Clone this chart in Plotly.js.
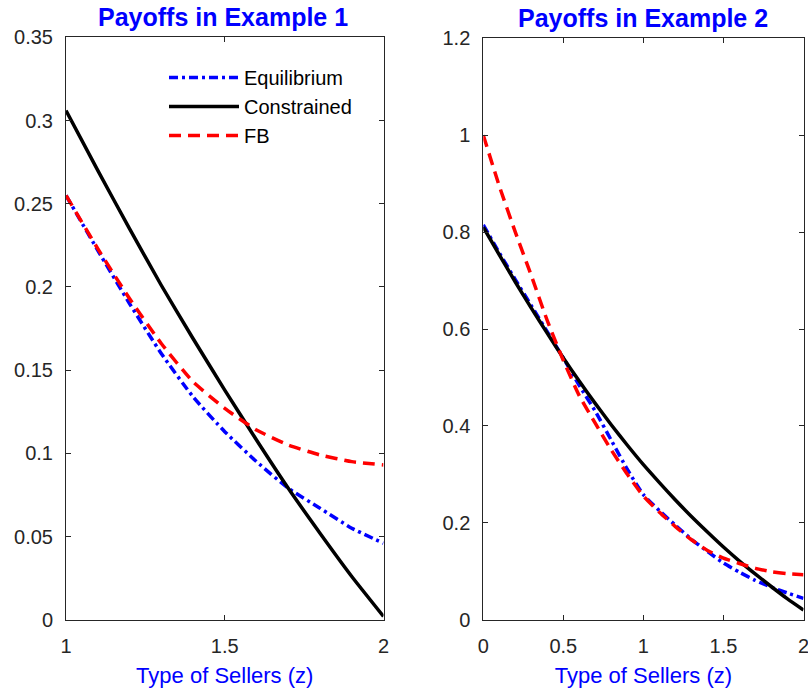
<!DOCTYPE html>
<html>
<head>
<meta charset="utf-8">
<script src="https://cdn.plot.ly/plotly-3.0.1.min.js"></script>
<style>html,body{margin:0;padding:0;background:#fff;}#chart{width:808px;height:694px;}</style>
</head>
<body>
<div id="chart"></div>
<script>
// Example 1 (left panel)
var z1 = [1.0, 1.1, 1.2, 1.3, 1.4, 1.5, 1.6, 1.7, 1.8, 1.9, 2.0];
var eq1 = [0.255, 0.222, 0.190, 0.160, 0.134, 0.113, 0.095, 0.079, 0.067, 0.055, 0.046];
var con1 = [0.306, 0.270, 0.235, 0.201, 0.169, 0.138, 0.108, 0.079, 0.052, 0.026, 0.002];
var fb1 = [0.255, 0.223, 0.193, 0.166, 0.143, 0.127, 0.114, 0.105, 0.099, 0.095, 0.093];

// Example 2 (right panel)
var z2 = [0.0, 0.1, 0.2, 0.3, 0.4, 0.5, 0.6, 0.7, 0.8, 0.9, 1.0, 1.1, 1.2, 1.3, 1.4, 1.5, 1.6, 1.7, 1.8, 1.9, 2.0];
var eq2 = [0.815, 0.757, 0.702, 0.648, 0.594, 0.540, 0.483, 0.430, 0.370, 0.310, 0.258, 0.225, 0.195, 0.166, 0.141, 0.117, 0.098, 0.081, 0.067, 0.055, 0.044];
var con2 = [0.810, 0.753, 0.697, 0.643, 0.591, 0.540, 0.492, 0.446, 0.402, 0.360, 0.320, 0.283, 0.247, 0.213, 0.181, 0.150, 0.121, 0.094, 0.068, 0.043, 0.020];
var fb2 = [1.000, 0.895, 0.800, 0.710, 0.617, 0.535, 0.462, 0.405, 0.350, 0.300, 0.255, 0.222, 0.192, 0.165, 0.143, 0.127, 0.116, 0.106, 0.099, 0.095, 0.093];

var seriesNames = ["Equilibrium", "Constrained", "FB"];
var titles = ["Payoffs in Example 1", "Payoffs in Example 2"];
var xTitle = "Type of Sellers (z)";

var x1Ticks = [1, 1.5, 2];
var x1Text = ["1", "1.5", "2"];
var y1Ticks = [0, 0.05, 0.1, 0.15, 0.2, 0.25, 0.3, 0.35];
var y1Text = ["0", "0.05", "0.1", "0.15", "0.2", "0.25", "0.3", "0.35"];
var x2Ticks = [0, 0.5, 1, 1.5, 2];
var x2Text = ["0", "0.5", "1", "1.5", "2"];
var y2Ticks = [0, 0.2, 0.4, 0.6, 0.8, 1, 1.2];
var y2Text = ["0", "0.2", "0.4", "0.6", "0.8", "1", "1.2"];

var FONT = "Liberation Sans, Arial, Helvetica, sans-serif";
var eqLine = {color: "#0000FF", width: 3.5, dash: "9px,4px,3px,4px", shape: "spline", smoothing: 0.5};
var conLine = {color: "#000000", width: 3.5, dash: "solid", shape: "spline", smoothing: 0.5};
var fbLine = {color: "#FF0000", width: 3.5, dash: "12px,7px", shape: "spline", smoothing: 0.5};

var traces = [
  {x: z1, y: eq1, name: seriesNames[0], mode: "lines", line: eqLine, xaxis: "x", yaxis: "y", legendgroup: "a"},
  {x: z1, y: con1, name: seriesNames[1], mode: "lines", line: conLine, xaxis: "x", yaxis: "y", legendgroup: "b"},
  {x: z1, y: fb1, name: seriesNames[2], mode: "lines", line: fbLine, xaxis: "x", yaxis: "y", legendgroup: "c"},
  {x: z2, y: eq2, name: seriesNames[0], mode: "lines", line: eqLine, xaxis: "x2", yaxis: "y2", showlegend: false, legendgroup: "a"},
  {x: z2, y: con2, name: seriesNames[1], mode: "lines", line: conLine, xaxis: "x2", yaxis: "y2", showlegend: false, legendgroup: "b"},
  {x: z2, y: fb2, name: seriesNames[2], mode: "lines", line: fbLine, xaxis: "x2", yaxis: "y2", showlegend: false, legendgroup: "c"}
];

function axisBase(extra) {
  var a = {
    showgrid: false, zeroline: false, showline: true, mirror: "ticks",
    linecolor: "#262626", linewidth: 1, ticks: "inside", ticklen: 5, tickwidth: 1, tickcolor: "#262626",
    tickfont: {family: FONT, size: 20, color: "#262626"}, tickmode: "array", fixedrange: true,
    ticklabeloverflow: "allow", ticklabelstandoff: 8
  };
  for (var k in extra) a[k] = extra[k];
  return a;
}

var W = 808, H = 694;
var layout = {
  width: W, height: H,
  margin: {l: 0, r: 0, t: 0, b: 0},
  paper_bgcolor: "#ffffff", plot_bgcolor: "#ffffff",
  font: {family: FONT, color: "#262626"},
  showlegend: true,
  legend: {
    x: 164 / W, y: 1 - 58 / H, xanchor: "left", yanchor: "top",
    bgcolor: "rgba(255,255,255,0)", borderwidth: 0,
    font: {family: FONT, size: 20, color: "#000000"},
    tracegroupgap: 0, itemwidth: 70
  },
  xaxis: axisBase({domain: [66 / W, 383.5 / W], range: [1, 2], tickvals: x1Ticks, ticktext: x1Text, anchor: "y",
    title: {text: xTitle, font: {family: FONT, size: 22, color: "#0000FF"}, standoff: 11}}),
  yaxis: axisBase({domain: [1 - 619.7 / H, 1 - 37.3 / H], range: [0, 0.35], tickvals: y1Ticks, ticktext: y1Text, anchor: "x"}),
  xaxis2: axisBase({domain: [483.3 / W, 803.5 / W], range: [0, 2], tickvals: x2Ticks, ticktext: x2Text, anchor: "y2",
    title: {text: xTitle, font: {family: FONT, size: 22, color: "#0000FF"}, standoff: 11}}),
  yaxis2: axisBase({domain: [1 - 619.7 / H, 1 - 38.3 / H], range: [0, 1.2], tickvals: y2Ticks, ticktext: y2Text, anchor: "x2"}),
  annotations: [
    {text: "<b>" + titles[0] + "</b>", xref: "paper", yref: "paper", x: 222.5 / W, y: 1 - 17 / H, xanchor: "center", yanchor: "middle",
     showarrow: false, font: {family: FONT, size: 25, color: "#0000FF"}},
    {text: "<b>" + titles[1] + "</b>", xref: "paper", yref: "paper", x: 643 / W, y: 1 - 18 / H, xanchor: "center", yanchor: "middle",
     showarrow: false, font: {family: FONT, size: 25, color: "#0000FF"}}
  ]
};

Plotly.newPlot("chart", traces, layout, {displayModeBar: false, staticPlot: true});
</script>
</body>
</html>
